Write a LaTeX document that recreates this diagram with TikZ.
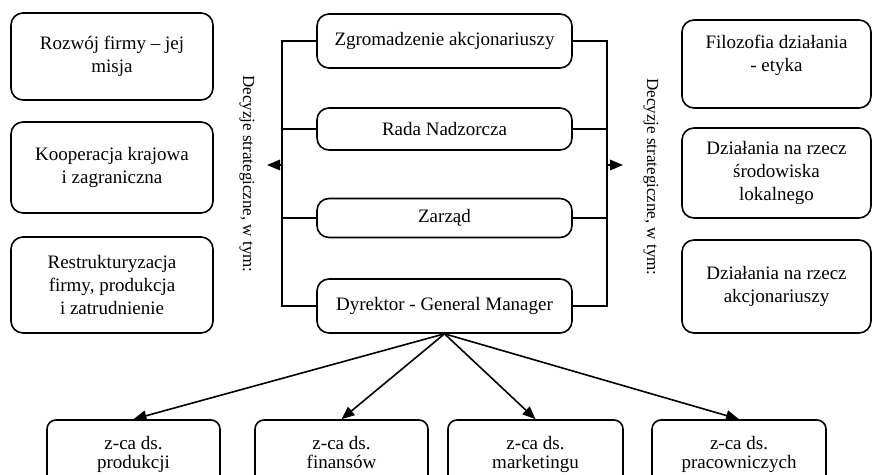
\documentclass[tikz,border=0pt]{standalone}
\usepackage{fontspec}
\setmainfont{Liberation Serif}
\usetikzlibrary{arrows.meta}
\begin{document}
\begin{tikzpicture}[x=1pt,y=-1pt,
  box/.style={draw, line width=1.6pt, rounded corners=12pt, align=center,
    inner sep=0pt, font=\fontsize{19}{23}\selectfont},
  sub/.style={draw, line width=1.6pt, rounded corners=9pt, align=center,
    inner sep=0pt, minimum height=70pt, font=\fontsize{19}{18.5}\selectfont},
  bus/.style={line width=1.6pt},
  arr/.style={line width=1.6pt, -{Triangle[length=13pt,width=10.5pt]}},
  vlabel/.style={rotate=-90, inner sep=0pt, font=\fontsize{17}{20}\selectfont}]
\useasboundingbox (0,0) rectangle (872,474);
\clip (0,0) rectangle (872,474);

% left column: strategic areas
\node[box, minimum width=202pt, minimum height=87pt] (l1) at (112,56.5)
  {Rozwój firmy – jej\\misja};
\node[box, minimum width=202pt, minimum height=91pt] (l2) at (112,167.5)
  {Kooperacja krajowa\\i zagraniczna};
\node[box, minimum width=202pt, minimum height=96pt] (l3) at (112,285)
  {Restrukturyzacja\\firmy, produkcja\\i zatrudnienie};

% central governing bodies
\node[box, minimum width=255pt, minimum height=54pt] (c1) at (444.5,41)
  {Zgromadzenie akcjonariuszy};
\node[box, minimum width=255pt, minimum height=42pt] (c2) at (444.5,129)
  {Rada Nadzorcza};
\node[box, minimum width=255pt, minimum height=39pt] (c3) at (444.5,218)
  {Zarząd};
\node[box, minimum width=255pt, minimum height=54pt] (c4) at (444.5,306)
  {Dyrektor - General Manager};

% right column: strategic areas
\node[box, minimum width=189pt, minimum height=88pt] (r1) at (776.5,64)
  {\raisebox{9pt}[\height][\depth]{\begin{tabular}{@{}c@{}}Filozofia działania\\- etyka\end{tabular}}};
\node[box, minimum width=189pt, minimum height=90pt] (r2) at (776.5,173)
  {Działania na rzecz\\środowiska\\lokalnego};
\node[box, minimum width=189pt, minimum height=93pt] (r3) at (776.5,286.5)
  {Działania na rzecz\\akcjonariuszy};

% deputy directors
\node[sub, minimum width=173pt] (b1) at (133.5,455) {z-ca ds.\\produkcji\strut};
\node[sub, minimum width=173pt] (b2) at (341.5,455) {z-ca ds.\\finansów\strut};
\node[sub, minimum width=175pt] (b3) at (535.5,455) {z-ca ds.\\marketingu\strut};
\node[sub, minimum width=174pt] (b4) at (739,455) {z-ca ds.\\pracowniczych\strut};

% side buses
\coordinate (lx) at (282,0);
\coordinate (rx) at (607,0);
\draw[bus] (c1.west) -- (c1.west -| lx) -- (c4.west -| lx) -- (c4.west);
\draw[bus] (c2.west) -- (c2.west -| lx);
\draw[bus] (c3.west) -- (c3.west -| lx);
\draw[bus] (c1.east) -- (c1.east -| rx) -- (c4.east -| rx) -- (c4.east);
\draw[bus] (c2.east) -- (c2.east -| rx);
\draw[bus] (c3.east) -- (c3.east -| rx);

\coordinate (la) at (282,165);
\coordinate (latip) at (267,165);
\coordinate (ra) at (607,165);
\coordinate (ratip) at (623,165);
\draw[arr] (la) -- (latip);
\draw[arr] (ra) -- (ratip);

% vertical captions
\node[vlabel] (vl) at (247,174) {Decyzje strategiczne, w tym:};
\node[vlabel] (vr) at (651,177) {Decyzje strategiczne, w tym:};

% director to deputies
\draw[arr] (c4.south) -- (b1.north);
\draw[arr] (c4.south) -- (b2.north);
\draw[arr] (c4.south) -- (b3.north);
\draw[arr] (c4.south) -- (b4.north);
\end{tikzpicture}
\end{document}
